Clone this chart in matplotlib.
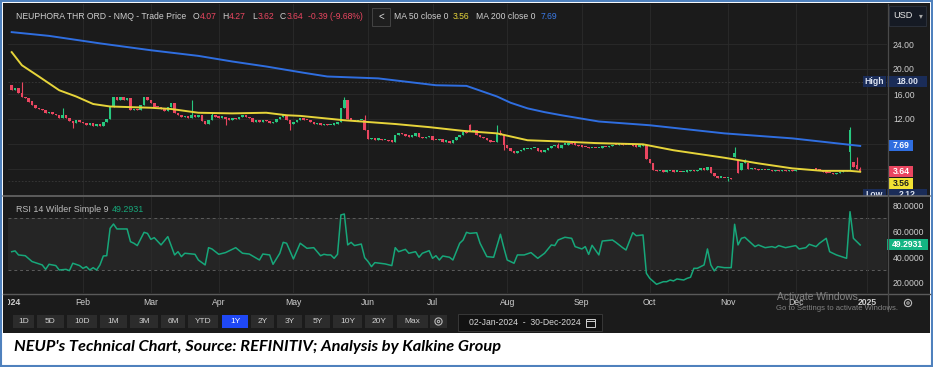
import numpy as np
import matplotlib.pyplot as plt
from matplotlib.patches import Rectangle, Circle
from matplotlib.transforms import blended_transform_factory

plt.rcParams['font.family'] = ['Liberation Sans', 'DejaVu Sans']

# ---- values; x = trading-day index (0 = 02-Jan-2024) ----
closes = [
    16.6, 16.9, 16.2, 15.6, 15.3, 14.8, 14.2, 13.8, 13.6, 13.4,
    12.9, 13.1, 12.8, 12.6, 12.1, 12.6, 12.2, 11.7, 11.4, 11.8,
    11.6, 11.3, 11.1, 11.3, 10.9, 11.2, 10.9, 11.5, 12.0, 13.9,
    15.6, 15.1, 15.5, 15.0, 15.4, 13.4, 13.6, 13.4, 14.2, 15.5,
    15.0, 14.5, 14.0, 13.9, 13.6, 13.3, 14.0, 14.6, 12.9, 12.6,
    12.3, 12.5, 12.2, 12.7, 12.3, 12.6, 11.7, 11.2, 11.9, 12.7,
    12.4, 12.2, 12.4, 12.0, 11.9, 12.2, 12.0, 12.4, 12.6, 12.3,
    12.1, 11.6, 11.9, 11.5, 11.8, 11.7, 11.3, 11.6, 12.0, 12.3,
    12.6, 11.9, 11.2, 11.5, 11.9, 12.2, 11.9, 11.8, 11.6, 11.2,
    11.3, 11.0, 11.2, 11.0, 11.1, 11.2, 11.6, 13.8, 15.0, 12.0,
    11.9, 11.7, 11.8, 11.9, 10.2, 8.8, 8.9, 8.7, 8.8, 8.6,
    8.7, 8.5, 8.4, 9.5, 9.8, 9.6, 9.3, 9.2, 9.3, 9.7,
    9.1, 8.9, 9.1, 9.3, 8.7, 8.6, 8.8, 8.4, 8.5, 8.2,
    8.6, 9.1, 9.4, 10.0, 9.8, 10.1, 10.3, 9.5, 9.1, 8.9,
    8.6, 8.4, 8.3, 9.8, 9.5, 7.8, 7.4, 6.9, 6.5, 6.9,
    7.1, 7.2, 7.2, 7.3, 7.4, 6.9, 6.8, 7.0, 7.3, 7.7,
    7.9, 7.4, 7.9, 7.9, 8.1, 8.0, 7.9, 7.7, 7.6, 7.5,
    7.3, 7.4, 7.3, 7.4, 7.6, 7.5, 7.7, 7.9, 7.8, 8.0,
    7.9, 7.8, 7.9, 7.7, 7.6, 7.7, 7.8, 5.6, 4.9, 3.9,
    3.7, 3.7, 3.6, 3.7, 3.7, 3.6, 3.6, 3.5, 3.6, 3.7,
    3.8, 3.7, 3.9, 4.0, 3.9, 4.4, 3.3, 2.9, 2.6, 2.6,
    2.5, 2.5, 2.4, 6.5, 3.4, 5.0, 5.3, 4.0, 4.2, 4.0,
    3.8, 3.9, 3.8, 3.8, 3.7, 3.8, 3.7, 3.8, 3.7, 3.8,
    3.7, 3.8, 3.9, 3.8, 3.9, 3.8, 4.0, 3.9, 3.8, 3.6,
    3.4, 3.3, 3.2, 3.3, 3.6, 3.7, 3.8, 10.2, 4.4, 4.07,
    3.64,
]
# opens differ from the previous close only on these days
open_gaps = {0: 17.5, 135: 11.0, 213: 5.9, 214: 5.5, 215: 3.8, 217: 5.0,
             247: 6.8, 248: 5.2, 249: 4.6}
wick_highs = {3: 18.0, 15: 13.8, 53: 15.0, 59: 13.0, 98: 15.5, 104: 12.7,
              135: 11.2, 143: 11.1, 144: 10.3, 161: 8.2, 213: 7.6, 216: 5.6,
              247: 10.7, 249: 6.0, 250: 4.27}
wick_lows = {18: 10.5, 63: 11.0, 82: 10.2, 145: 7.0, 211: 2.12, 247: 3.8,
             250: 3.62}

ma50_idx = [0, 3, 8, 14, 19, 24, 29, 41, 47, 55, 65, 75, 81, 85, 98, 103, 113,
            123, 133, 143, 152, 162, 172, 186, 195, 210, 220, 230, 239, 247, 250]
ma50_val = [22.7, 20.6, 18.8, 16.6, 15.6, 14.4, 14.0, 13.8, 13.6, 13.0, 12.9,
            13.0, 12.6, 12.5, 11.8, 11.6, 11.2, 10.7, 10.1, 9.7, 8.6, 8.4, 8.15,
            7.95, 7.0, 5.8, 4.9, 4.1, 3.7, 3.7, 3.56]
ma200_idx = [0, 11, 26, 41, 55, 65, 75, 86, 93, 108, 125, 134, 143, 147, 152,
             157, 162, 173, 188, 210, 230, 250]
ma200_val = [25.9, 25.3, 24.1, 23.0, 22.1, 21.2, 20.4, 19.4, 18.8, 18.5, 17.4,
             17.3, 15.6, 14.6, 13.7, 13.1, 12.6, 11.6, 11.0, 9.7, 8.9, 7.69]

rsi_idx = [0, 1, 2, 4, 6, 9, 10, 11, 13, 14, 16, 17, 18, 20, 21, 22, 23, 24, 25,
           26, 27, 28, 29, 30, 31, 34, 35, 36, 37, 39, 40, 41, 42, 44, 46, 48,
           49, 50, 51, 54, 55, 57, 58, 59, 61, 63, 66, 68, 70, 73, 74, 76, 77,
           79, 80, 81, 83, 85, 87, 89, 91, 92, 93, 94, 95, 96, 97, 98, 99, 100,
           101, 103, 104, 105, 106, 107, 110, 112, 113, 114, 116, 117, 119, 120,
           121, 123, 124, 125, 126, 127, 129, 130, 132, 133, 134, 135, 137, 138,
           140, 142, 144, 145, 146, 148, 149, 151, 153, 155, 157, 159, 160, 161,
           163, 165, 166, 168, 169, 170, 171, 173, 174, 177, 178, 180, 181, 183,
           184, 186, 187, 188, 190, 192, 193, 194, 195, 196, 198, 199, 200, 201,
           202, 204, 205, 206, 207, 208, 210, 212, 213, 214, 215, 216, 219, 220,
           222, 224, 225, 226, 228, 231, 232, 234, 235, 237, 238, 240, 241, 243,
           246, 247, 248, 250]
rsi_val = [44.1, 44.7, 41.6, 41.0, 36.5, 33.9, 30.5, 34.4, 33.4, 30.0,
           30.5, 29.5, 35.2, 33.4, 31.3, 32.6, 30.0, 31.8, 30.0, 33.9,
           40.8, 41.0, 62.1, 65.4, 61.6, 61.6, 51.8, 50.6, 48.8, 59.0,
           58.2, 53.6, 54.9, 49.3, 55.7, 41.6, 44.1, 40.3, 42.9, 42.1,
           37.7, 33.9, 47.2, 46.2, 42.1, 43.4, 47.2, 42.9, 42.3, 37.7,
           42.3, 41.6, 34.4, 42.9, 51.3, 50.6, 38.5, 50.6, 46.7, 47.2,
           41.0, 42.1, 41.6, 41.6, 39.0, 42.1, 72.4, 73.1, 49.3, 51.3,
           48.8, 50.0, 39.5, 36.5, 32.6, 35.7, 34.7, 33.4, 47.2, 44.1,
           45.9, 42.9, 44.1, 39.8, 42.9, 44.9, 39.0, 41.0, 37.7, 40.8,
           39.8, 37.7, 50.6, 53.1, 59.0, 58.2, 58.7, 50.6, 40.3, 39.8,
           57.5, 47.2, 37.7, 35.2, 41.6, 41.6, 43.4, 39.0, 42.9, 49.3,
           48.8, 53.1, 55.2, 54.4, 48.0, 46.2, 48.0, 42.0, 49.0, 41.6,
           52.3, 53.1, 51.3, 47.2, 45.4, 58.7, 56.4, 57.0, 27.5, 23.6,
           19.0, 21.0, 21.0, 22.3, 21.6, 23.1, 22.3, 23.6, 24.4, 31.3,
           31.3, 33.9, 46.2, 33.9, 29.3, 32.6, 31.8, 31.8, 65.2, 49.3,
           54.4, 55.2, 48.0, 49.3, 47.2, 48.0, 47.2, 48.8, 47.2, 48.8,
           46.2, 47.2, 49.8, 48.0, 50.6, 54.4, 44.1, 41.6, 39.0, 74.9,
           54.4, 49.29]

month_idx = [0, 21, 41, 61, 83, 105, 124, 146, 168, 188, 211, 231, 252]
month_labels = ['2024', 'Feb', 'Mar', 'Apr', 'May', 'Jun', 'Jul', 'Aug', 'Sep',
                'Oct', 'Nov', 'Dec', '2025']
price_ticks = [4, 8, 12, 16, 20, 24]
rsi_ticks = [20, 40, 60, 80]

last_open, last_high, last_low, last_close = 4.07, 4.27, 3.62, 3.64
change, change_pct = -0.39, -9.68
last_ma50, last_ma200, last_rsi = 3.56, 7.69, 49.2931
year_high, year_low = 18.00, 2.12

buttons = ['1D', '5D', '10D', '1M', '3M', '6M', 'YTD', '1Y', '2Y', '3Y', '5Y',
           '10Y', '20Y', 'Max']
button_edges = [(13, 34), (37, 64), (67, 97), (100, 127), (130, 158), (161, 185),
                (188, 218), (222, 248), (251, 274), (277, 302), (305, 330),
                (333, 362), (365, 393), (397, 428)]

# ---- style ----
W, H = 933, 367
BG = '#1b1b1b'
GRID = '#2b2b2b'
TXT = '#cfcfcf'
UP = '#28c77f'
DOWN = '#ea4660'
MA50_C = '#e6d43a'
MA200_C = '#2f6ee0'
RSI_C = '#17a77a'
NAVY = '#1a2c58'
X_LO, X_HI = -1.09, 257.9


def frame(x0, y0, x1, y1):
    return [x0 / W, 1 - y1 / H, (x1 - x0) / W, (y1 - y0) / H]


fig = plt.figure(figsize=(W / 100, H / 100), dpi=100)
fig.patch.set_facecolor('white')

bg = fig.add_axes([0, 0, 1, 1], zorder=0)
bg.set_xlim(0, W)
bg.set_ylim(H, 0)
bg.axis('off')
bg.add_patch(Rectangle((3, 3), 927, 330, fc=BG, ec='none'))
bg.add_patch(Rectangle((0.8, 0.8), W - 1.6, H - 1.6, fc='none', ec='#4f81bd', lw=1.5))

# ---- price panel ----
ax = fig.add_axes(frame(8, 4, 887, 195), zorder=1)
ax.set_facecolor('none')
ax.set_xlim(X_LO, X_HI)
ax.set_ylim(-0.16, 30.4)
for s in ax.spines.values():
    s.set_visible(False)
ax.set_xticks([])
ax.yaxis.tick_right()
ax.set_yticks(price_ticks)
ax.set_yticklabels(['' if t < 12 else f'{t:.2f}' for t in price_ticks])
ax.tick_params(axis='y', length=0, pad=4.3, labelsize=6.2, labelcolor=TXT)
for t in price_ticks:
    ax.axhline(t, color=GRID, lw=0.6, zorder=0)
for m in month_idx[1:]:
    ax.axvline(m, color=GRID, lw=0.6, zorder=0)
ax.axhline(year_high, color='#3a3a3a', lw=0.6, ls=(0, (2, 2)), zorder=0)
ax.axhline(year_low, color='#3a3a3a', lw=0.6, ls=(0, (2, 2)), zorder=0)

c = np.array(closes)
o = np.r_[c[0], c[:-1]]
for k, v in open_gaps.items():
    o[k] = v
hi = np.maximum(o, c)
lo = np.minimum(o, c)
for k, v in wick_highs.items():
    hi[k] = v
for k, v in wick_lows.items():
    lo[k] = v
x = np.arange(len(c))
colors = np.where(c >= o, UP, DOWN)
ax.vlines(x, lo, hi, colors=colors, lw=0.8, zorder=2)
ax.bar(x, np.maximum(np.abs(c - o), 0.22), bottom=np.minimum(o, c), width=0.74,
       color=colors, zorder=3)

ax.plot(ma200_idx, ma200_val, color=MA200_C, lw=1.4, zorder=4)
ax.plot(ma50_idx, ma50_val, color=MA50_C, lw=1.4, zorder=4)


def tag(axis, px_per_unit, y, label, fc, tc, x0, x1, dy_px=0.0, h_px=11):
    tr = blended_transform_factory(axis.transAxes, axis.transData)
    yc = y - dy_px / px_per_unit
    h = h_px / px_per_unit
    axis.add_patch(Rectangle((x0, yc - h / 2), x1 - x0, h, transform=tr, fc=fc,
                             ec='none', clip_on=False, zorder=6))
    axis.text((x0 + x1) / 2, yc, label, transform=tr, ha='center', va='center',
              color=tc, fontsize=6.2, fontweight='bold', clip_on=False, zorder=7)


PPX = 191 / 30.56
tag(ax, PPX, year_high, 'High', NAVY, '#dde3f0', 0.9727, 0.9989)
tag(ax, PPX, year_high, f'{year_high:.2f}', NAVY, '#dde3f0', 1.0, 1.0455)
tag(ax, PPX, last_ma200, f'{last_ma200:.2f}', MA200_C, 'white', 1.0023, 1.0296)
tag(ax, PPX, last_close, f'{last_close:.2f}', DOWN, 'white', 1.0023, 1.0296)
tag(ax, PPX, last_ma50, f'{last_ma50:.2f}', '#f2e233', '#1b1b1b', 1.0023, 1.0296,
    dy_px=11.3)
tag(ax, PPX, year_low, 'Low', NAVY, '#dde3f0', 0.9727, 0.9989, dy_px=13.5)
tag(ax, PPX, year_low, f'{year_low:.2f}', NAVY, '#dde3f0', 1.0, 1.0455, dy_px=13.5)

# cover for the RSI row so stacked price tags are cut at the separator
cover = fig.add_axes(frame(3, 196, 930, 293), zorder=2)
cover.set_facecolor(BG)
cover.set_xticks([])
cover.set_yticks([])
for s in cover.spines.values():
    s.set_visible(False)

# ---- RSI panel ----
rx = fig.add_axes(frame(8, 197, 887, 293), zorder=3)
rx.set_facecolor('none')
rx.set_xlim(X_LO, X_HI)
rx.set_ylim(12.3, 86.2)
for s in rx.spines.values():
    s.set_visible(False)
rx.set_xticks([])
rx.yaxis.tick_right()
rx.set_yticks(rsi_ticks)
rx.set_yticklabels([f'{t:.4f}' for t in rsi_ticks])
rx.tick_params(axis='y', length=0, pad=4.3, labelsize=6.2, labelcolor=TXT)
rx.axhspan(30, 70, color='#252525', lw=0, zorder=0)
for lvl in (30, 70):
    rx.axhline(lvl, color='#5c5c5c', lw=0.7, ls=(0, (3, 3)), zorder=1)
for m in month_idx[1:]:
    rx.axvline(m, color=GRID, lw=0.6, zorder=1)
rx.plot(rsi_idx, rsi_val, color=RSI_C, lw=1.1, zorder=3)
tag(rx, 96 / 73.9, last_rsi, f'{last_rsi:.4f}', '#13b583', 'white', 0.9995, 1.0466)
rx.text(0.009, 0.875, 'RSI 14 Wilder Simple 9', transform=rx.transAxes, ha='left',
        va='center', fontsize=6.4, color='#bdbdbd')
rx.text(0.118, 0.875, f'{last_rsi:.4f}', transform=rx.transAxes, ha='left',
        va='center', fontsize=6.4, color=RSI_C)

# ---- date labels ----
dx = fig.add_axes(frame(8, 293, 887, 311), zorder=3)
dx.set_xlim(X_LO, X_HI)
dx.set_ylim(0, 1)
dx.axis('off')
for m, lab in zip(month_idx, month_labels):
    is_year = lab.isdigit()
    dx.text(m, 0.45, lab, ha='center', va='center', fontsize=6.2, color=TXT,
            fontweight='bold' if is_year else 'normal', clip_on=True)

# ---- UI overlay (header, separators, buttons) ----
ui = fig.add_axes([0, 0, 1, 1], zorder=5)
ui.set_facecolor('none')
ui.set_xlim(0, W)
ui.set_ylim(H, 0)
ui.axis('off')

ui.plot([3, 930], [196, 196], color='#6e6e6e', lw=1.1)
ui.plot([3, 930], [293.5, 293.5], color='#5a5a5a', lw=1.0)
ui.plot([887.5, 887.5], [4, 311], color='#4a4a4a', lw=0.9)

renderer = fig.canvas.get_renderer()


def text_run(x0, y, parts, size=6.2):
    # parts: (gap before, text, colour); widths measured so the runs abut
    xpos = x0
    for gap, s, col in parts:
        xpos += gap
        t = ui.text(xpos, y, s, ha='left', va='center', fontsize=size, color=col)
        xpos += t.get_window_extent(renderer).width
    return xpos


text_run(16, 16.5, [
    (0, 'NEUPHORA THR ORD - NMQ - Trade Price', TXT),
    (6, 'O', TXT), (0.5, f'{last_open:.2f}', DOWN),
    (6, 'H', TXT), (0.5, f'{last_high:.2f}', DOWN),
    (6, 'L', TXT), (0.5, f'{last_low:.2f}', DOWN),
    (6, 'C', TXT), (0.5, f'{last_close:.2f}', DOWN),
    (5, f'{change:.2f} ({change_pct:.2f}%)', DOWN)])
text_run(394, 16.5, [
    (0, 'MA 50 close 0', TXT), (4, f'{last_ma50:.2f}', MA50_C),
    (7, 'MA 200 close 0', TXT), (5, f'{last_ma200:.2f}', '#3b7be8')])

ui.add_patch(Rectangle((372, 7.5), 18, 18, fc='#1e1e1e', ec='#444444', lw=0.7))
ui.text(381, 16.5, '<', ha='center', va='center', fontsize=7, color='#dddddd')
ui.add_patch(Rectangle((888.5, 5.5), 37.5, 20.5, fc='#151a24', ec='#2b303a', lw=0.7))
ui.text(893, 15.5, 'USD', ha='left', va='center', fontsize=6.6, color='#e8e8e8')
ui.text(921, 15.5, '▾', ha='center', va='center', fontsize=5.5, color='#aaaaaa',
        family=['DejaVu Sans'])

for lab, (b0, b1) in zip(buttons, button_edges):
    ui.add_patch(Rectangle((b0, 315), b1 - b0, 13, lw=0,
                           fc='#1f48f5' if lab == '1Y' else '#2c2c2c'))
    ui.text((b0 + b1) / 2, 321.5, lab, ha='center', va='center', fontsize=6,
            color='white' if lab == '1Y' else TXT)
ui.add_patch(Rectangle((430, 315), 17, 13, fc='#2c2c2c', lw=0))
for gx, gy in [(438.5, 321.5), (908, 303)]:
    ui.add_patch(Circle((gx, gy), 3.6, fc='none', ec='#bbbbbb', lw=0.8))
    ui.add_patch(Circle((gx, gy), 1.2, fc='none', ec='#bbbbbb', lw=0.7))

ui.add_patch(Rectangle((458, 314), 144, 17, fc='#121212', ec='#383838', lw=0.7))
ui.text(469, 322.5, '02-Jan-2024  -  30-Dec-2024', ha='left', va='center',
        fontsize=6.2, color='#d8d8d8')
ui.add_patch(Rectangle((586, 318.5), 8.5, 8, fc='none', ec='#cfcfcf', lw=0.7))
ui.plot([586, 594.5], [320.8, 320.8], color='#cfcfcf', lw=0.7)

# Windows watermark sits over the Dec / 2025 labels in the screenshot
ui.text(777, 296.5, 'Activate Windows', ha='left', va='center', fontsize=7.4,
        color='#8e8e8e', alpha=0.9)
ui.text(776, 308, 'Go to Settings to activate Windows.', ha='left', va='center',
        fontsize=5.5, color='#8e8e8e', alpha=0.9)

caption = "NEUP's Technical Chart, Source: REFINITIV; Analysis by Kalkine Group"
cap = ui.text(14, 347.5, caption, ha='left', va='center', fontsize=9.5,
              fontweight='bold', fontstyle='italic', color='black',
              family=['Lato', 'DejaVu Sans'])
cap.set_fontsize(9.5 * 488 / cap.get_window_extent(renderer).width)

fig.savefig('out.png', dpi=100, facecolor='white')
